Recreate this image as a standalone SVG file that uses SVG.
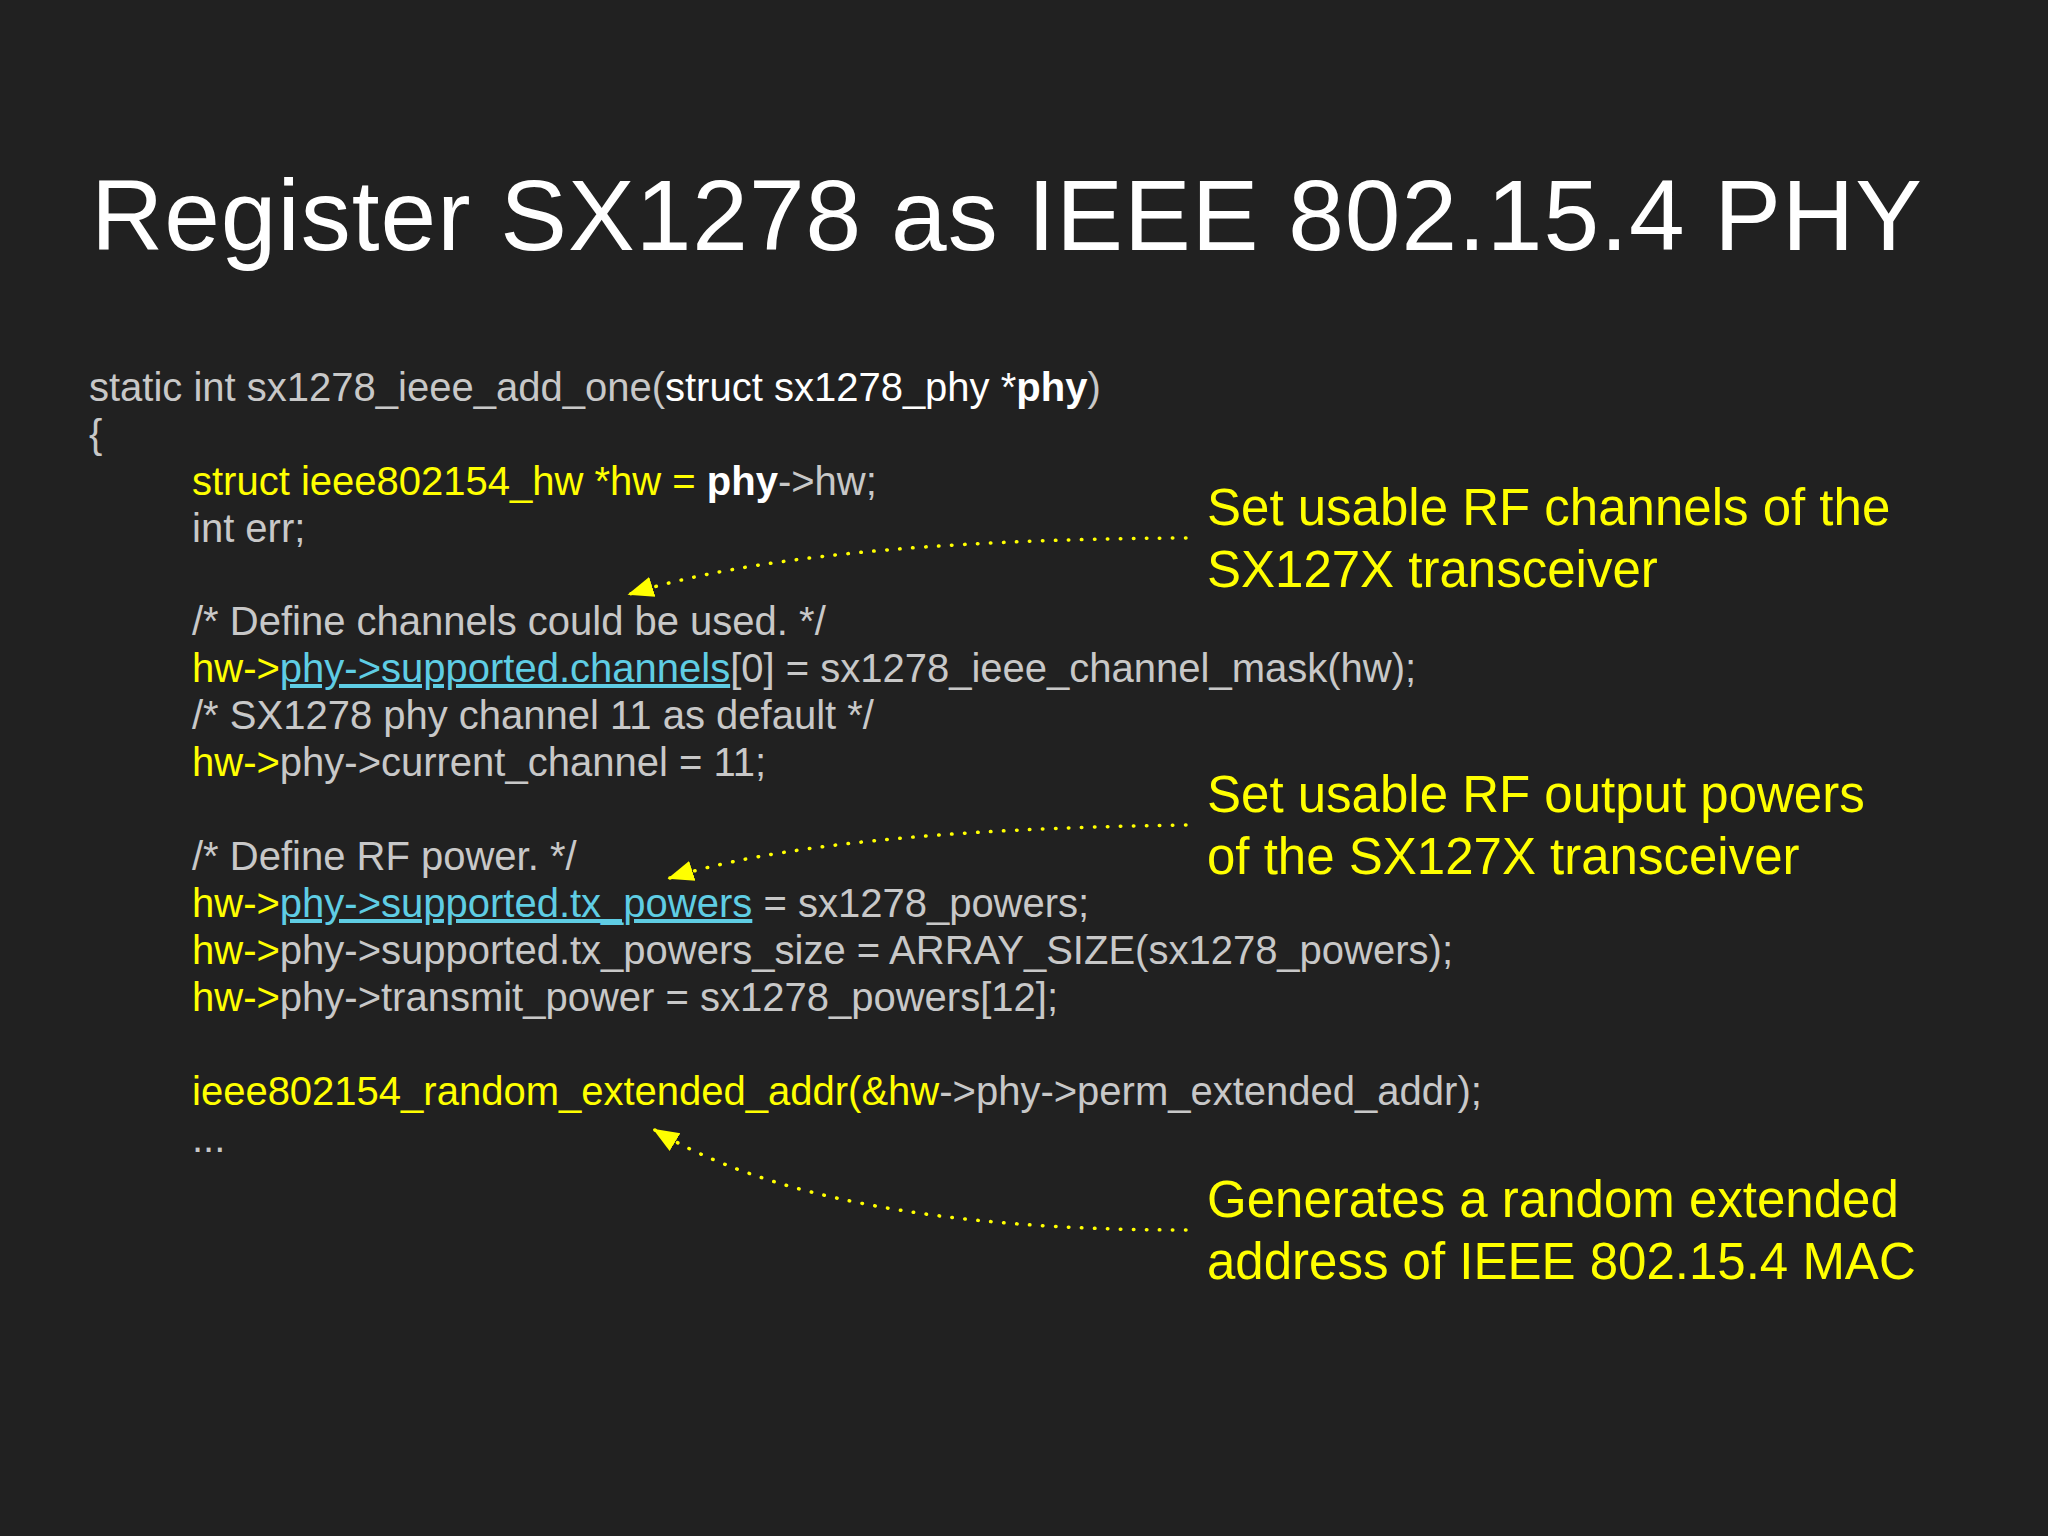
<svg xmlns="http://www.w3.org/2000/svg" width="2048" height="1536" viewBox="0 0 2048 1536">
<style>
text{font-family:"Liberation Sans",Arial,sans-serif}
.c{font-size:40px;fill:#c8c8c8}
.y{fill:#ffff00}
.w{fill:#ffffff}
.b{fill:#ffffff;font-weight:bold}
.l{fill:#5fcde4;text-decoration:underline}
.a{font-size:51px;fill:#ffff00}
.d{fill:none;stroke:#ffff00;stroke-width:3.5;stroke-dasharray:0.5 12.5;stroke-linecap:round}
</style>
<defs>
<marker id="ah2" viewBox="0 0 10 10" refX="9" refY="5" markerWidth="26" markerHeight="26" markerUnits="userSpaceOnUse" orient="auto"><path d="M0,1L10,5L0,9z" fill="#ffff00"/></marker></defs>
<rect width="2048" height="1536" fill="#212121"/>
<g id="title"><text x="91" y="250" font-size="100" fill="#ffffff" textLength="1831">Register SX1278 as IEEE 802.15.4 PHY</text></g>
<g id="code" class="c">
<text x="89" y="401">static int sx1278_ieee_add_one(<tspan class="w">struct sx1278_phy *</tspan><tspan class="b">phy</tspan>)</text>
<text x="89" y="448">{</text>
<text x="192" y="495"><tspan class="y">struct ieee802154_hw *hw = </tspan><tspan class="b">phy</tspan>-&gt;hw;</text>
<text x="192" y="542">int err;</text>
<text x="192" y="635">/* Define channels could be used. */</text>
<text x="192" y="682"><tspan class="y">hw-&gt;</tspan><tspan class="l">phy-&gt;supported.channels</tspan>[0] = sx1278_ieee_channel_mask(hw);</text>
<text x="192" y="729">/* SX1278 phy channel 11 as default */</text>
<text x="192" y="776"><tspan class="y">hw-&gt;</tspan>phy-&gt;current_channel = 11;</text>
<text x="192" y="870">/* Define RF power. */</text>
<text x="192" y="917"><tspan class="y">hw-&gt;</tspan><tspan class="l">phy-&gt;supported.tx_powers</tspan> = sx1278_powers;</text>
<text x="192" y="964"><tspan class="y">hw-&gt;</tspan>phy-&gt;supported.tx_powers_size = ARRAY_SIZE(sx1278_powers);</text>
<text x="192" y="1011"><tspan class="y">hw-&gt;</tspan>phy-&gt;transmit_power = sx1278_powers[12];</text>
<text x="192" y="1105"><tspan class="y">ieee802154_random_extended_addr(&amp;hw</tspan>-&gt;phy-&gt;perm_extended_addr);</text>
<text x="192" y="1152">...</text>
</g>
<g id="note1"><text class="a" x="1207" y="525">Set usable RF channels of the</text><text class="a" x="1207" y="587">SX127X transceiver</text></g>
<g id="note2"><text class="a" x="1207" y="812">Set usable RF output powers</text><text class="a" x="1207" y="874">of the SX127X transceiver</text></g>
<g id="note3"><text class="a" x="1207" y="1217">Generates a random extended</text><text class="a" x="1207" y="1279">address of IEEE 802.15.4 MAC</text></g>
<g id="connectors">
<path class="d" d="M1186,538 Q800,540 630,594" marker-end="url(#ah2)"/>
<path class="d" d="M1186,825 Q820,830 670,878" marker-end="url(#ah2)"/>
<path class="d" d="M1186,1230 Q820,1230 655,1130" marker-end="url(#ah2)"/>
</g>
</svg>
